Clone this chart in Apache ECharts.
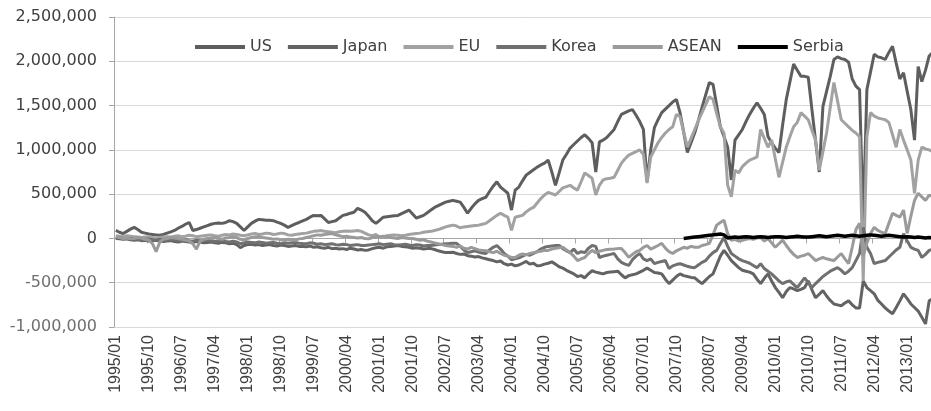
<!DOCTYPE html>
<html><head><meta charset="utf-8">
<script src="https://cdn.jsdelivr.net/npm/echarts@6/dist/echarts.min.js"></script>
<style>html,body{margin:0;padding:0;background:#fff;}#chart{width:931px;height:411px;}</style>
</head><body><div id="chart"></div>
<script>
// Monthly categories 1995/01 ... (225 months, chart is cropped at the right edge)
const years = [1995,1996,1997,1998,1999,2000,2001,2002,2003,2004,2005,2006,2007,2008,2009,2010,2011,2012,2013];
const months = ['01','02','03','04','05','06','07','08','09','10','11','12'];
const categories = [];
years.forEach(y => months.forEach(m => categories.push(y + '/' + m)));
categories.length = 225;
const lastVisibleIndex = 222; // picture is cut off at 2013/07
const labelEvery = 9;         // a tick label every 9 months

const seriesNames = ['US','Japan','EU','Korea','ASEAN','Serbia'];

// values in thousands
const usK = [
90,70,55,80,105,125,100,70,60,50,
45,40,35,45,60,75,90,115,135,160,
180,90,100,115,130,145,160,170,175,170,
180,200,190,170,130,90,130,170,195,215,
210,205,205,200,185,170,150,125,145,165,
180,198,215,240,260,255,260,220,180,190,200,
230,260,270,285,295,340,320,295,250,200,
170,205,240,245,250,255,260,280,300,320,
275,230,245,260,290,320,350,370,390,410,420,
430,420,410,350,285,340,390,430,450,465,
530,590,640,580,545,510,320,545,580,650,
715,745,775,805,830,850,885,750,600,740,
885,950,1020,1060,1100,1140,1170,1130,1080,750,
1090,1110,1140,1185,1230,1320,1400,1420,1440,1455,1390,
1320,1230,640,1000,1250,1340,1420,1460,1500,1540,
1570,1420,1200,970,1080,1190,1330,1480,1620,1760,
1740,1500,1260,1150,1030,660,1110,1170,1230,1320,1400,
1470,1530,1470,1400,1150,1080,1020,970,1280,1570,
1770,1970,1900,1830,1830,1820,1455,1100,750,1490,
1660,1830,2020,2050,2030,2020,1990,1800,1720,1680,
200,1680,1880,2080,2050,2040,2020,2100,2170,1980,1800,
1870,1660,1455,1110,1940,1770,1900,2060,2100,2050
];
const japanK = [
0,-5,-10,-5,-15,-20,-15,-25,-20,-30,
-25,-20,-30,-35,-30,-25,-35,-40,-30,-35,
-40,-45,-35,-40,-50,-45,-40,-50,-55,-45,
-50,-60,-55,-70,-105,-80,-70,-65,-75,-70,
-80,-75,-70,-80,-85,-75,-80,-90,-85,-80,
-90,-92,-95,-85,-100,-95,-105,-110,-100,-115,-110,
-120,-115,-125,-110,-120,-130,-125,-135,-130,-115,
-105,-100,-110,-95,-90,-85,-80,-90,-95,-100,
-110,-105,-110,-120,-115,-115,-125,-140,-150,-160,-158,
-155,-170,-180,-175,-195,-200,-210,-205,-220,-230,
-240,-250,-265,-255,-285,-300,-290,-310,-300,-280,
-260,-290,-280,-310,-305,-290,-280,-265,-290,-320,
-335,-360,-380,-400,-430,-420,-445,-400,-365,-380,
-390,-400,-385,-380,-375,-370,-410,-445,-420,-410,-400,
-380,-360,-335,-360,-385,-390,-400,-460,-510,-470,
-430,-400,-420,-430,-440,-445,-480,-510,-470,-430,
-400,-300,-200,-135,-190,-250,-290,-330,-360,-370,-380,
-400,-460,-510,-450,-400,-480,-555,-610,-670,-600,
-555,-570,-590,-575,-555,-480,-580,-670,-630,-590,
-650,-700,-740,-750,-760,-730,-705,-750,-785,-785,
-480,-555,-590,-625,-700,-740,-785,-820,-850,-780,-705,
-625,-680,-740,-780,-820,-890,-965,-705,-680,-720
];
const euK = [
30,25,20,30,25,20,15,10,15,20,
10,5,10,15,20,15,25,30,20,25,
35,30,20,25,30,35,40,30,25,35,
45,40,50,45,35,30,40,50,55,45,
50,60,55,45,50,60,55,40,35,45,
50,55,60,70,80,85,90,80,75,70,65,
75,80,85,80,85,90,80,60,40,30,
45,15,20,30,35,40,35,30,35,45,
50,55,60,70,75,80,90,100,115,130,140,
150,140,120,130,135,140,145,150,160,170,
200,230,260,285,260,240,90,240,250,260,
300,330,350,400,450,490,520,505,490,530,
570,585,600,570,545,640,740,710,680,490,
600,660,675,680,690,770,850,900,940,960,980,
1000,950,625,920,1000,1080,1140,1190,1230,1260,
1400,1375,1200,1030,1130,1230,1330,1420,1510,1600,
1570,1410,1260,1190,600,470,770,740,810,850,885,
900,920,1230,1130,1030,1110,900,690,860,1030,
1150,1260,1310,1420,1380,1340,1220,1110,770,980,
1190,1480,1760,1550,1340,1300,1260,1220,1190,1150,
-480,1150,1420,1380,1360,1350,1340,1310,1170,1030,1230,
1110,1000,885,510,885,1030,1010,1000,980,1000
];
const koreaK = [
10,5,0,-5,0,-10,-5,-15,-10,-5,
-15,-20,-10,-15,-20,-10,-15,-25,-20,-15,
-25,-30,-20,-25,-30,-20,-25,-35,-30,-25,
-35,-40,-30,-40,-60,-50,-40,-45,-50,-40,
-45,-55,-50,-45,-55,-60,-50,-55,-50,-45,
-55,-58,-60,-50,-55,-65,-60,-70,-65,-60,-70,
-75,-65,-70,-80,-75,-70,-80,-80,-75,-70,
-65,-60,-70,-65,-60,-70,-75,-70,-65,-75,
-80,-70,-75,-85,-80,-80,-75,-70,-65,-60,-58,
-55,-55,-90,-130,-160,-150,-140,-155,-165,-170,
-130,-100,-80,-120,-170,-200,-240,-230,-220,-200,
-180,-190,-170,-150,-120,-100,-90,-85,-80,-80,
-115,-140,-160,-120,-170,-150,-160,-110,-80,-90,
-215,-200,-190,-180,-170,-230,-270,-290,-305,-240,-200,
-170,-230,-250,-230,-285,-270,-260,-250,-340,-310,
-295,-285,-300,-315,-325,-330,-300,-270,-250,-200,
-160,-135,-60,10,-90,-170,-200,-230,-250,-265,-280,
-305,-330,-285,-340,-370,-400,-440,-480,-510,-490,
-480,-520,-555,-500,-445,-500,-555,-510,-470,-430,
-400,-370,-350,-330,-360,-400,-370,-330,-250,-170,
125,-100,-170,-285,-270,-260,-250,-210,-170,-130,-100,
55,-30,-100,-120,-135,-215,-180,-135,-120,-150
];
const aseanK = [
20,10,0,5,-5,0,10,5,-10,-20,
-60,-150,-40,-10,0,10,5,0,-10,-20,
-30,-60,-120,-30,-10,0,5,10,0,-10,
5,10,20,10,-10,-20,0,10,15,20,
10,5,0,-10,-5,-15,-20,-10,-15,-20,
-5,0,10,20,30,40,35,45,50,55,40,
30,20,25,15,10,5,10,0,-5,10,
15,20,25,15,10,5,0,10,5,0,
0,-10,-20,-15,-30,-40,-50,-60,-70,-80,-85,
-90,-100,-85,-110,-120,-100,-115,-130,-135,-140,
-150,-160,-145,-170,-190,-200,-215,-215,-190,-175,
-185,-170,-160,-150,-145,-135,-135,-120,-110,-105,
-100,-130,-160,-200,-250,-230,-215,-170,-135,-160,
-145,-135,-125,-122,-120,-115,-115,-160,-215,-180,-150,
-135,-100,-80,-120,-100,-80,-55,-110,-150,-170,
-140,-120,-100,-110,-90,-100,-100,-80,-70,-55,
40,150,180,205,55,-20,-10,-30,-20,-10,0,
-10,5,10,-30,0,-50,-100,-60,-20,-80,
-135,-180,-215,-200,-190,-170,-210,-250,-230,-215,
-230,-240,-250,-210,-170,-230,-285,-100,100,170,
-200,-50,55,125,90,70,55,170,285,260,240,
320,55,250,430,510,470,430,490,470,480
];
// Serbia only reported from 2007/12 (index 155)
const serbiaStartIndex = 155;
const serbiaK = [
0,5,10,15,20,25,30,35,40,45,
50,40,5,10,15,10,15,20,15,10,
15,20,15,10,15,20,20,15,10,15,
20,25,20,15,15,20,25,30,25,20,
25,30,35,30,25,30,35,30,25,30,
35,40,35,30,25,30,35,30,25,20,
15,20,15,10,15,10,5,10,5,0
];

const yMin = -1000000, yMax = 2500000, yStep = 500000;

[usK, japanK, euK, koreaK, aseanK].forEach((a, i) => {
  if (a.length !== categories.length) throw new Error('length mismatch ' + seriesNames[i] + ' ' + a.length);
});
if (serbiaStartIndex + serbiaK.length !== categories.length) throw new Error('serbia length ' + serbiaK.length);

const toUnits = a => a.map(v => v == null ? null : v * 1000);
const serbiaData = new Array(serbiaStartIndex).fill(null).concat(toUnits(serbiaK));

const colors = {US:'#5e5e5e', Japan:'#636363', EU:'#a2a2a2', Korea:'#707070', ASEAN:'#9a9a9a', Serbia:'#000000'};
const dataByName = {US:toUnits(usK), Japan:toUnits(japanK), EU:toUnits(euK), Korea:toUnits(koreaK), ASEAN:toUnits(aseanK), Serbia:serbiaData};

const FONT = 'DejaVu Sans';
const chart = echarts.init(document.getElementById('chart'), null, {renderer:'canvas'});
chart.setOption({
  animation:false,
  backgroundColor:'#ffffff',
  legend:{
    data:seriesNames, top:34, left:190, itemWidth:50, itemHeight:4, itemGap:16, icon:'rect',
    textStyle:{fontSize:16, color:'#404040', fontFamily:FONT}
  },
  grid:{left:114, right:0, top:17, bottom:84},
  xAxis:{
    type:'category', data:categories, max:lastVisibleIndex,
    axisLine:{show:true, lineStyle:{color:'#a6a6a6', width:1}},
    axisTick:{show:true, interval:labelEvery - 1, length:5, lineStyle:{color:'#a6a6a6'}},
    axisLabel:{show:true, interval:labelEvery - 1, rotate:90, margin:8, fontSize:16, color:'#404040'}
  },
  yAxis:{
    type:'value', min:yMin, max:yMax, interval:yStep,
    axisLine:{show:true, lineStyle:{color:'#a6a6a6'}},
    axisTick:{show:true, length:5, lineStyle:{color:'#a6a6a6'}},
    splitLine:{show:true, lineStyle:{color:'#d9d9d9', width:1}},
    axisLabel:{
      margin:17, fontSize:16, color:'#404040', fontFamily:FONT,
      formatter:v => { const s = Number(v).toLocaleString('en-US'); return v < 0 ? '{n|' + s + '}' : s; },
      rich:{n:{color:'#6f6f6f', fontSize:16, fontFamily:FONT}}
    }
  },
  series:seriesNames.map((name, i) => ({
    name, type:'line', data:dataByName[name],
    symbol:'none', showSymbol:false,
    lineStyle:{width: name === 'Serbia' ? 3.5 : 3, color:colors[name]},
    itemStyle:{color:colors[name]},
    z: 2 + i
  }))
});
</script></body></html>
